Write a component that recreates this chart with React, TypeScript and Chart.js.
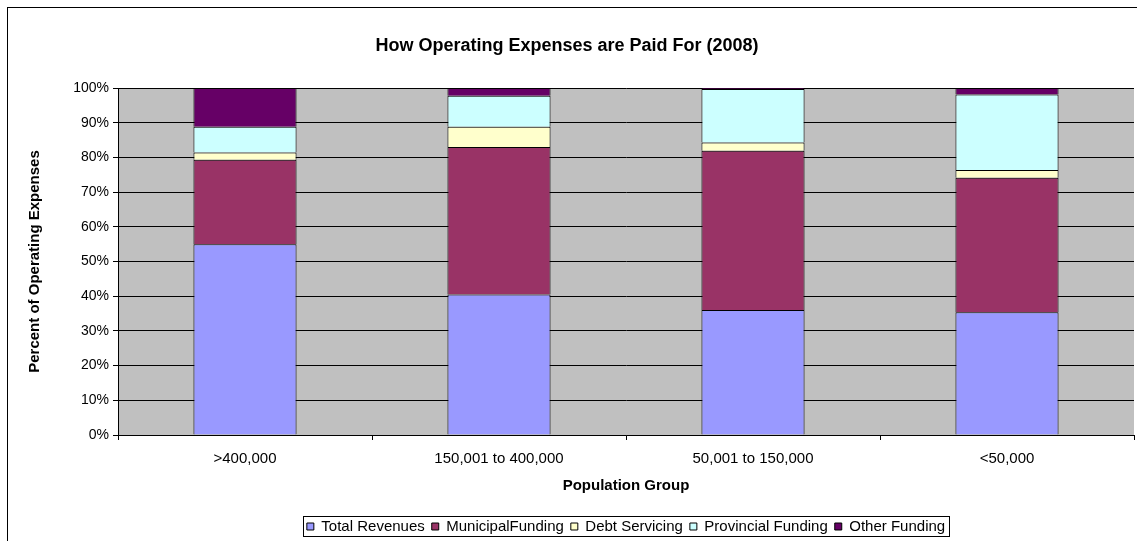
import React, { useEffect, useRef } from "react";
import { Chart, registerables } from "chart.js";

Chart.register(...registerables);

const categories = [">400,000", "150,001 to 400,000", "50,001 to 150,000", "<50,000"];
const totalRevenues = [55.0, 40.5, 36.0, 35.4];
const municipalFunding = [24.3, 42.5, 45.9, 38.7];
const debtServicing = [2.1, 5.8, 2.4, 2.3];
const provincialFunding = [7.4, 9.0, 15.4, 21.7];
const otherFunding = [11.2, 2.2, 0.3, 1.9];

const FONT = "'Liberation Sans', Arial, sans-serif";

export default function App() {
  const ref = useRef<HTMLCanvasElement>(null);
  useEffect(() => {
    const plotBg = {
      id: "plotBg",
      afterLayout(chart: any) {
        // centre the legend under the plot area rather than the canvas
        const lg = chart.legend;
        if (lg) {
          const plotCenter = (chart.chartArea.left + chart.chartArea.right) / 2;
          const cur = (lg.left + lg.right) / 2;
          const d = plotCenter - cur;
          lg.left += d;
          lg.right += d;
        }
      },
      beforeDraw(chart: any) {
        const { ctx, chartArea } = chart;
        ctx.save();
        ctx.fillStyle = "#C0C0C0";
        ctx.fillRect(chartArea.left, chartArea.top, chartArea.right - chartArea.left, chartArea.bottom - chartArea.top);
        ctx.restore();
      },
      afterDraw(chart: any) {
        const { ctx } = chart;
        ctx.save();
        ctx.strokeStyle = "#000";
        ctx.lineWidth = 1;
        ctx.strokeRect(7.5, 7.5, 1200, 600);
        const boxes = chart.legend?.legendHitBoxes || [];
        if (boxes.length) {
          let l = Infinity, t = Infinity, r = -Infinity, b = -Infinity;
          for (const h of boxes) {
            l = Math.min(l, h.left); t = Math.min(t, h.top);
            r = Math.max(r, h.left + h.width); b = Math.max(b, h.top + h.height);
          }
          ctx.strokeRect(Math.round(l - 4) + 0.5, Math.round(t - 3) + 0.5, Math.round(r - l + 8), Math.round(b - t + 5));
        }
        ctx.restore();
      },
    };
    const mk = (label: string, data: number[], color: string) => ({
      label, data, backgroundColor: color, borderColor: "#000", borderWidth: 1,
      barPercentage: 1, categoryPercentage: 0.406,
    });
    const chart = new Chart(ref.current!, {
      type: "bar",
      data: {
        labels: categories,
        datasets: [
          mk("Total Revenues", totalRevenues, "#9999FF"),
          mk("MunicipalFunding", municipalFunding, "#993366"),
          mk("Debt Servicing", debtServicing, "#FFFFCC"),
          mk("Provincial Funding", provincialFunding, "#CCFFFF"),
          mk("Other Funding", otherFunding, "#660066"),
        ],
      },
      options: {
        animation: false,
        responsive: false,
        layout: { padding: { left: 0, right: 3, top: 0, bottom: -3 } },
        plugins: {
          title: {
            display: true,
            text: "How Operating Expenses are Paid For (2008)",
            color: "#000",
            font: { family: FONT, size: 18, weight: "bold" },
            padding: { top: 35, bottom: 31.4 },
          },
          legend: {
            position: "bottom",
            labels: {
              color: "#000",
              font: { family: FONT, size: 15 },
              boxWidth: 7, boxHeight: 7, padding: 7,
            },
          },
          tooltip: { enabled: false },
        },
        scales: {
          x: {
            stacked: true,
            afterFit: (s: any) => { s.height = 77; },
            grid: { drawOnChartArea: false, drawTicks: true, tickLength: 5, color: "#000" },
            border: { display: true, color: "#000" },
            ticks: { color: "#000", font: { family: FONT, size: 15 }, padding: 10, maxRotation: 0 },
            title: {
              display: true, text: "Population Group", color: "#000",
              font: { family: FONT, size: 15, weight: "bold" }, padding: { top: 0, bottom: 17 },
            },
          },
          y: {
            stacked: true,
            min: 0, max: 100,
            afterFit: (s: any) => { s.width = 118; },
            grid: { color: "#000", tickLength: 5, drawTicks: true },
            border: { display: true, color: "#000" },
            ticks: { stepSize: 10, color: "#000", font: { family: FONT, size: 14 }, padding: 4, callback: (v: any) => v + "%" },
            title: {
              display: true, text: "Percent of Operating Expenses", color: "#000",
              font: { family: FONT, size: 15, weight: "bold" }, padding: { top: 26, bottom: 0 },
            },
          },
        },
      },
      plugins: [plotBg],
    });
    return () => chart.destroy();
  }, []);
  return (
    <div style={{ position: "absolute", left: 0, top: 0, width: 1137, height: 541, background: "#fff" }}>
      <canvas ref={ref} width={1137} height={541} style={{ display: "block" }} />
    </div>
  );
}
